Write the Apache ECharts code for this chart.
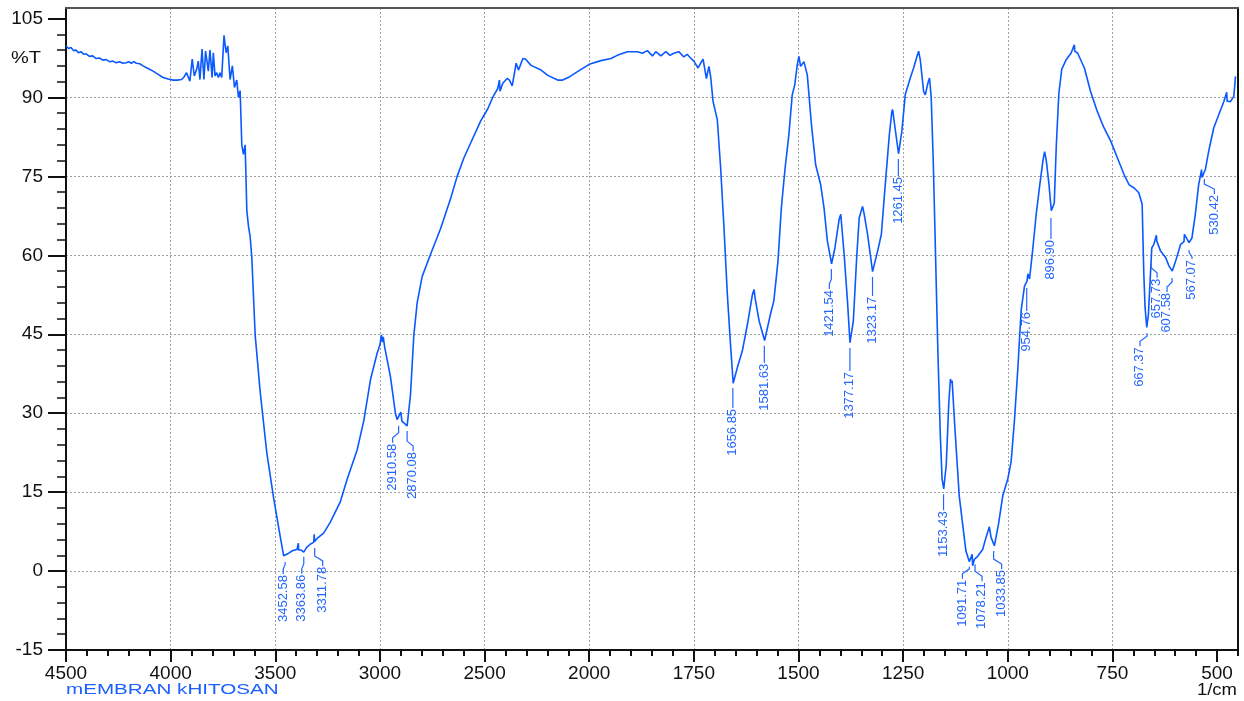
<!DOCTYPE html>
<html>
<head>
<meta charset="utf-8">
<script src="https://cdn.jsdelivr.net/npm/echarts@6.0.0/dist/echarts.min.js"></script>
<style>
html,body{margin:0;padding:0;background:#fff;}
#chart{width:1244px;height:701px;}
</style>
</head>
<body>
<div id="chart"></div>
<script>
// ---- data (wavenumber in 1/cm, transmittance in %T) ----
const wavenumber = [
4500,4488,4476,4464,4452,4440,4428,4416,4404,4388,
4372,4356,4340,4324,4308,4292,4276,4260,4244,4228,
4212,4200,4188,4176,4164,4148,4132,4108,4084,4060,
4036,4012,3988,3968,3948,3936,3924,3908,3897,3887,
3876,3868,3860,3850,3841,3833,3820,3812,3802,3796,
3788,3780,3772,3764,3756,3745,3735,3727,3716,3705,
3695,3684,3676,3668,3660,3652,3644,3636,3628,3620,
3612,3604,3596,3572,3540,3508,3484,3460,3452,3436,
3416,3396,3392,3390,3388,3376,3364,3350,3333,3316,
3314,3312,3300,3269,3237,3189,3157,3109,3077,3045,
3014,3000,2993,2988,2984,2978,2950,2926,2918,2910,
2900,2895,2886,2870,2854,2838,2822,2798,2758,2710,
2663,2631,2599,2567,2519,2484,2460,2437,2429,2426,
2413,2392,2381,2368,2349,2338,2317,2305,2278,2230,
2198,2151,2127,2095,2056,2000,1972,1948,1933,1909,
1885,1873,1861,1849,1841,1829,1817,1807,1798,1786,
1774,1766,1758,1750,1740,1734,1728,1720,1714,1710,
1704,1694,1686,1678,1670,1662,1656,1646,1634,1622,
1610,1606,1604,1594,1581,1567,1559,1549,1541,1532,
1523,1515,1509,1503,1499,1495,1487,1479,1469,1459,
1447,1439,1431,1421,1413,1403,1399,1397,1391,1383,
1377,1369,1361,1355,1347,1343,1335,1323,1311,1302,
1294,1283,1277,1275,1272,1261,1253,1245,1233,1225,
1217,1213,1209,1201,1197,1191,1187,1183,1178,1173,
1167,1161,1157,1153,1147,1141,1137,1135,1133,1126,
1116,1108,1100,1092,1085,1084,1080,1072,1060,1052,
1044,1040,1032,1022,1012,1000,992,984,976,968,
960,954,952,948,940,932,924,916,912,908,
902,896,889,884,878,871,861,849,841,840,
833,817,802,786,770,754,738,722,710,698,
687,679,675,672,668,664,660,656,651,645,
644,635,623,615,607,599,587,579,578,567,
560,552,544,537,536,528,520,508,496,484,
477,476,468,460,456
];
const transmittance = [
99.8,99.3,99.5,98.9,99.0,98.5,98.7,98.2,98.3,97.8,
97.9,97.4,97.5,97.1,97.2,96.8,96.9,96.6,96.8,96.5,
96.6,96.8,96.5,96.8,96.5,96.4,96.0,95.5,95.0,94.4,
93.8,93.5,93.3,93.3,93.4,93.9,94.7,93.1,97.3,94.1,
95.3,96.9,93.4,99.2,93.4,98.8,95.0,99.0,93.8,98.5,
94.1,94.7,93.8,94.7,93.8,101.8,98.5,99.8,93.4,96.0,
91.9,93.3,90.0,91.3,81.0,79.2,81.0,68.5,65.5,63.5,
59.5,52.0,44.8,34.0,22.3,13.9,8.3,2.9,2.6,3.4,
3.9,4.1,4.0,5.3,4.0,4.0,3.6,4.5,5.1,5.5,
7.0,5.6,6.2,7.2,9.3,13.2,17.4,23.0,28.6,36.4,
41.3,43.0,44.9,43.5,44.5,42.7,37.0,30.0,28.8,28.6,
30.2,28.5,28.6,27.6,33.5,44.8,51.0,56.0,60.2,65.1,
70.7,75.0,78.5,81.3,85.5,87.9,90.1,91.7,93.3,91.2,
92.7,93.6,93.3,92.2,96.5,95.2,97.4,97.3,96.1,95.2,
94.2,93.3,93.3,93.9,94.9,96.3,97.0,97.4,98.0,98.7,
98.7,98.4,98.9,97.9,98.7,97.9,98.7,98.0,98.4,98.7,
97.7,98.2,97.5,96.9,95.6,96.5,97.3,93.6,95.9,94.0,
89.2,85.8,76.6,65.2,52.6,42.5,35.7,38.7,41.9,46.9,
52.6,53.5,52.0,47.5,43.8,48.8,51.3,58.9,69.0,76.6,
82.9,90.5,92.4,96.2,97.8,95.9,96.8,94.3,84.8,77.2,
73.4,69.0,62.7,58.4,61.4,66.8,67.8,65.9,60.2,51.3,
43.4,47.5,59.6,67.1,69.3,67.8,64.0,56.9,60.8,64.0,
72.2,82.9,87.3,87.7,85.8,79.3,83.6,90.5,93.7,95.6,
97.8,98.8,97.1,91.1,90.5,92.7,93.7,90.1,77.7,61.4,
41.7,25.4,17.5,15.6,20.2,31.9,36.5,35.8,36.2,26.7,
14.3,9.0,3.8,1.8,3.2,1.0,2.2,2.8,4.1,6.4,
8.4,6.4,4.8,9.0,14.3,17.5,20.8,28.7,38.5,49.6,
54.2,55.1,56.5,55.5,61.4,67.9,73.1,78.0,79.7,78.0,
73.8,68.5,69.9,81.0,90.8,95.4,97.1,98.4,100.0,98.8,
98.4,95.6,91.1,87.3,84.2,81.7,78.5,75.3,73.4,72.8,
71.9,69.7,56.4,50.1,46.3,48.8,55.1,61.4,62.1,63.8,
62.7,60.8,59.6,58.0,57.0,58.9,62.1,62.6,64.0,62.4,
63.3,67.8,73.4,76.3,74.8,76.3,79.8,84.2,86.7,89.2,
91.0,89.3,89.2,90.2,94.0
];

// peak labels (wavenumber) and %T where each label's leader starts
const peakWn = [3452.58,3363.86,3311.78,2910.58,2870.08,1656.85,1581.63,1421.54,1377.17,1323.17,1261.45,
                1153.43,1091.71,1078.21,1033.85,954.76,896.90,667.37,657.73,607.58,567.07,530.42];
const peakT  = [1.7,2.7,4.4,27.6,26.6,34.8,42.8,57.4,42.4,55.9,78.3,
                14.6,0.8,1.3,3.8,53.8,67.1,45.2,58.4,55.7,61.0,74.5];

// axis tick labels
const xTickLabels = [4500,4000,3500,3000,2500,2000,1750,1500,1250,1000,750,500];
const yTickLabels = [-15,0,15,30,45,60,75,90,105];

// ---- layout (label leader length and sideways jog, in px) ----
const leaderLen = [12,17,18,17,20,20,17,20,23,19,17,16,12,17,18,23,21,13,14,14,9,15];
const jogDx     = [-2,-2,8,-6,6,0,0,-2,0,0,0,0,-7,7,8,0,0,-7,6,-5,3,10];

// x axis has a 2x scale expansion below 2000 1/cm
function toAxis(w){ return w >= 2000 ? 4500 - w : 2500 + (2000 - w) * 2; }
function fromAxis(t){ return t <= 2500 ? 4500 - t : 2000 - (t - 2500) / 2; }

const LINE = '#0a58ff';
const LBL = '#2266ff';
const FONT = '"Liberation Sans", Arial, Helvetica, sans-serif';
const X_MAX = toAxis(450);
const GRID_LINE = { color: '#a0a0a0', type: [2, 2], width: 1 };

const xMajor = xTickLabels.map(toAxis);
const yMinor = [];
for (let v = -15; v <= 105; v += 3) yMinor.push(v);

const chart = echarts.init(document.getElementById('chart'), null, {renderer:'canvas'});

const option = {
  backgroundColor: '#ffffff',
  animation: false,
  grid: { left: 66, right: 6, top: 8, bottom: 51, containLabel: false },
  xAxis: [
    {
      type: 'value', min: 0, max: X_MAX, interval: 500, position: 'bottom',
      axisLine: { show: true, onZero: false, lineStyle: { color: '#111', width: 2 } },
      axisTick: { show: true, length: 12, customValues: xMajor, lineStyle: { color: '#111', width: 2 } },
      axisLabel: { show: true, customValues: xMajor, margin: 14, color: '#111', fontSize: 19, fontFamily: FONT,
                   formatter: v => String(Math.round(fromAxis(v))) },
      splitLine: { show: true, showMinLine: false, showMaxLine: false, lineStyle: GRID_LINE }
    },
    {
      type: 'value', min: 0, max: X_MAX, interval: 100, position: 'bottom',
      axisLine: { show: false, onZero: false },
      axisTick: { show: true, length: 6, lineStyle: { color: '#111', width: 2 } },
      axisLabel: { show: false }, splitLine: { show: false }
    },
    {
      type: 'value', min: 0, max: X_MAX, position: 'top', z: 10,
      axisLine: { show: true, onZero: false, lineStyle: { color: '#555', width: 2 } },
      axisTick: { show: false }, axisLabel: { show: false }, splitLine: { show: false }
    }
  ],
  yAxis: [
    {
      type: 'value', min: -15, max: 107, interval: 15, position: 'left',
      axisLine: { show: true, onZero: false, lineStyle: { color: '#111', width: 2 } },
      axisTick: { show: true, length: 18, customValues: yTickLabels, lineStyle: { color: '#111', width: 2 } },
      axisLabel: { show: true, customValues: yTickLabels, margin: 23, color: '#111', fontSize: 19, fontFamily: FONT },
      splitLine: { show: true, showMinLine: false, showMaxLine: false, lineStyle: GRID_LINE }
    },
    {
      type: 'value', min: -15, max: 107, interval: 3, position: 'left',
      axisLine: { show: false, onZero: false },
      axisTick: { show: true, length: 9, customValues: yMinor, lineStyle: { color: '#111', width: 1.5 } },
      axisLabel: { show: false }, splitLine: { show: false }
    },
    {
      type: 'value', min: -15, max: 107, position: 'right', z: 10,
      axisLine: { show: true, onZero: false, lineStyle: { color: '#111', width: 2 } },
      axisTick: { show: false }, axisLabel: { show: false }, splitLine: { show: false }
    }
  ],
  graphic: [
    { type: 'text', x: 11, y: 59, scaleX: 1.25,
      style: { text: '%T', fill: '#111', fontSize: 16, fontFamily: FONT, verticalAlign: 'middle', align: 'left' } },
    { type: 'text', x: 66, y: 690, scaleX: 1.33,
      style: { text: 'mEMBRAN kHITOSAN', fill: '#1a5fff', fontSize: 15.5, fontFamily: FONT, verticalAlign: 'middle', align: 'left' } },
    { type: 'text', x: 1237, y: 690, scaleX: 1.12,
      style: { text: '1/cm', fill: '#111', fontSize: 16.5, fontFamily: FONT, verticalAlign: 'middle', align: 'right' } }
  ],
  series: [
    {
      type: 'line', xAxisIndex: 0, yAxisIndex: 0, symbol: 'none', showSymbol: false,
      data: wavenumber.map((w, i) => [toAxis(w), transmittance[i]]),
      lineStyle: { color: LINE, width: 1.6 }, silent: true, z: 3
    },
    {
      type: 'custom', xAxisIndex: 0, yAxisIndex: 0, silent: true, clip: false, z: 4,
      data: peakWn.map((w, i) => [toAxis(w), peakT[i]]),
      renderItem: function (params, api) {
        const i = params.dataIndex;
        const p = api.coord([api.value(0), api.value(1)]);
        const x = p[0], y = p[1];
        const L = leaderLen[i], dx = jogDx[i];
        let pts;
        if (dx === 0) {
          pts = [[x, y], [x, y + L]];
        } else {
          const a = Math.max(2, L - 10);
          pts = [[x, y], [x, y + a], [x + dx, y + a + 5], [x + dx, y + L]];
        }
        return {
          type: 'group',
          children: [
            { type: 'polyline', shape: { points: pts }, style: { stroke: LBL, lineWidth: 1.2, fill: null } },
            { type: 'text', x: x + dx, y: y + L + 1, rotation: Math.PI / 2, scaleX: 1.08,
              style: { text: peakWn[i].toFixed(2), fill: LBL, fontSize: 12, fontFamily: FONT,
                       align: 'right', verticalAlign: 'middle' } }
          ]
        };
      }
    }
  ]
};
chart.setOption(option);
</script>
</body>
</html>
